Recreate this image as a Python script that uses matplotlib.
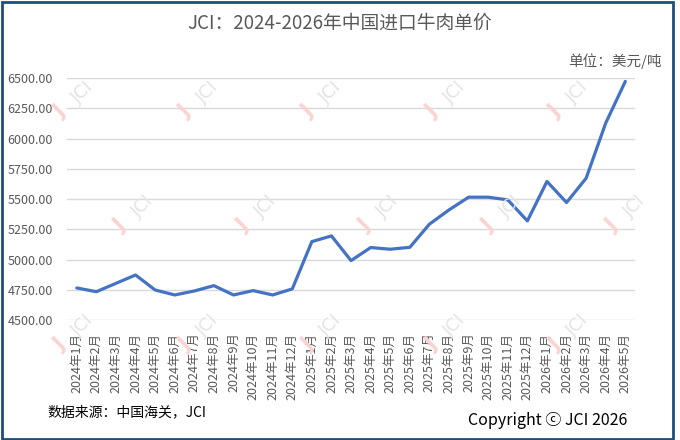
import matplotlib
matplotlib.use('Agg')
import matplotlib.pyplot as plt
from matplotlib.patches import Rectangle

plt.rcParams['font.family'] = ['Noto Sans CJK SC', 'DejaVu Sans']

# months 2024-01 .. 2026-05
months = ([f'2024年{m}月' for m in range(1, 13)]
          + [f'2025年{m}月' for m in range(1, 13)]
          + [f'2026年{m}月' for m in range(1, 6)])
prices = [4765, 4734, 4803, 4872, 4748, 4707, 4740, 4784, 4707, 4743,
          4707, 4757, 5148, 5195, 4991, 5099, 5085, 5101, 5292, 5410,
          5515, 5515, 5493, 5319, 5645, 5471, 5672, 6128, 6472]
yticks = [4500, 4750, 5000, 5250, 5500, 5750, 6000, 6250, 6500]

fig = plt.figure(figsize=(6.8, 4.4), dpi=100)
ax = fig.add_axes([0.0985, 0.2727, 0.8355, 0.55])

# watermark logos
wm_rows = [(0.77, [75, 200, 323, 447, 570]),
           (0.51, [135, 258, 380, 503, 627]),
           (0.24, [75, 200, 323, 447, 570])]
for yf, xs in wm_rows:
    for xp in xs:
        fig.text(xp / 680 + 0.012, yf + 0.02, 'JCI', rotation=45, fontsize=13,
                 color='#e4e4e4', ha='center', va='center', family='DejaVu Sans', zorder=0)
        fig.text(xp / 680 - 0.022, yf - 0.025, 'J', rotation=45, fontsize=15,
                 color='#fbd3d3', ha='center', va='center', fontweight='bold',
                 family='DejaVu Sans', zorder=0)

x = list(range(len(months)))
ax.plot(x, prices, color='#4472C4', linewidth=2.3, solid_capstyle='round', zorder=3)

ax.set_xlim(-0.5, len(months) - 0.5)
ax.set_ylim(4500, 6500)
ax.set_yticks(yticks)
ax.set_yticklabels([f'{v:.2f}' for v in yticks], fontsize=9, color='#595959')
ax.set_xticks(x)
ax.set_xticklabels(months, rotation=90, fontsize=9, color='#595959')
ax.tick_params(axis='x', length=0, pad=9)
ax.tick_params(axis='y', length=0, pad=10)
ax.grid(axis='y', color='#d9d9d9', linewidth=1)
for s in ax.spines.values():
    s.set_visible(False)
ax.set_facecolor('none')

fig.text(0.5, 0.948, 'JCI：2024-2026年中国进口牛肉单价', ha='center', va='center',
         fontsize=13.5, color='#595959')
fig.text(0.973, 0.862, '单位：美元/吨', ha='right', va='center', fontsize=10.5, color='#595959')
fig.text(0.07, 0.062, '数据来源：中国海关，JCI', ha='left', va='center', fontsize=10, color='#000000')
fig.text(0.923, 0.045, 'Copyright ⓒ JCI 2026', ha='right', va='center', fontsize=11.5,
         color='#000000')

fig.patches.append(Rectangle((1.5 / 680, 1.5 / 440), 671 / 680, 436 / 440,
                             transform=fig.transFigure, fill=False,
                             edgecolor='#1F4E79', linewidth=2))

fig.savefig('out.png', dpi=100, facecolor='white')
